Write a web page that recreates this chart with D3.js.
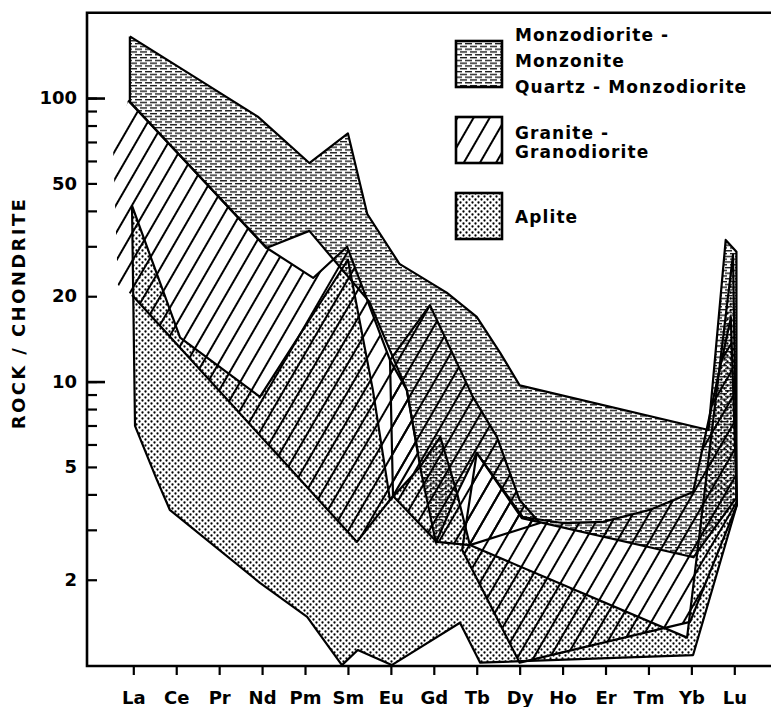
<!DOCTYPE html>
<html>
<head>
<meta charset="utf-8">
<script src="https://cdn.jsdelivr.net/npm/d3@7"></script>
<style>
  body { margin: 0; background: #fff; }
  svg { display: block; }
  text { font-family: 'DejaVu Sans', sans-serif; font-weight: bold; fill: #000; }
</style>
</head>
<body>
<svg id="chart"></svg>
<script>
// REE elements along the x axis
const elements = ['La', 'Ce', 'Pr', 'Nd', 'Pm', 'Sm', 'Eu', 'Gd', 'Tb', 'Dy', 'Ho', 'Er', 'Tm', 'Yb', 'Lu'];
const labeledTicks = [100, 50, 20, 10, 5, 2];
const decadeTicks = [100, 10];
const minorTicks = [3, 4, 6, 7, 8, 9, 30, 40, 60, 70, 80, 90];

// fields as [element position, rock/chondrite]
const monzoField = [[-0.08, 165], [2.9, 86], [4.1, 59], [5.0, 75], [5.45, 39], [6.2, 26], [7.3, 20.6],
  [8.0, 16.9], [8.55, 12.6], [9.0, 9.7], [13.4, 6.75], [13.8, 31.6], [14.05, 28.7], [14.05, 3.9],
  [13.05, 2.4], [9.05, 3.3], [8.0, 5.6], [7.55, 4.05], [7.05, 2.7], [6.68, 5.0], [6.63, 5.6],
  [6.37, 9.35], [5.5, 19.1], [4.1, 34], [3.1, 29.6], [-0.08, 97]];
// outlined part of the main granite field; its ragged left end has no outline
const graniteMain = [[-0.12, 98], [3.11, 29.6], [4.19, 23.2], [4.98, 29.9], [5.98, 11.9], [6.37, 9.35],
  [6.63, 5.6], [6.05, 3.95], [5.21, 2.72], [-0.03, 20.2]];
const graniteLeftEnd = [[-0.36, 21.9], [-0.47, 65.7]];
const graniteGd = [[5.98, 11.9], [6.91, 18.6], [7.91, 8.83], [8.47, 6.38], [9.0, 3.82], [9.47, 3.17],
  [7.84, 2.65], [7.07, 2.72], [6.05, 3.95]];
const graniteHeavy = [[8.0, 5.6], [9.07, 3.33], [10.0, 3.17], [10.94, 3.2], [12.04, 3.53], [13.04, 4.08],
  [13.92, 16.8], [14.06, 3.67], [12.97, 1.42], [9.0, 1.02], [7.66, 2.55]];
const apliteField = [[-0.03, 41.7], [1.09, 14.3], [2.95, 8.83], [5.0, 26.9], [5.58, 9.35], [5.98, 3.82],
  [6.68, 5.0], [7.15, 6.38], [7.54, 4.05], [7.84, 2.65], [12.9, 1.25], [13.97, 28], [14.06, 3.67],
  [13.04, 1.085], [8.08, 1.02], [7.61, 1.41], [6.02, 1.0], [5.23, 1.13], [4.86, 1.0], [4.05, 1.48],
  [2.95, 1.95], [0.85, 3.53], [0.55, 4.5], [0.04, 6.98]];

const legendItems = [
  { pattern: 'dash', lines: ['Monzodiorite -', 'Monzonite', 'Quartz - Monzodiorite'] },
  { pattern: 'hatch', lines: ['Granite -', 'Granodiorite'] },
  { pattern: 'dots', lines: ['Aplite'] },
];

const width = 771;
const height = 707;
const plotLeft = 87;
const plotTop = 12.7;
const plotBottom = 666;

const svg = d3.select('#chart');
let xScale;
let yScale;

const drawCanvas = () => {
  svg.attr('width', width).attr('height', height);
};

const makePatterns = () => {
  const defs = svg.append('defs');

  const dash = defs.append('pattern')
    .attr('id', 'dash')
    .attr('patternUnits', 'userSpaceOnUse')
    .attr('width', 10)
    .attr('height', 5.6);
  dash.append('rect').attr('x', 0).attr('y', 1).attr('width', 7).attr('height', 1.25).attr('fill', '#000');
  dash.append('rect').attr('x', 5).attr('y', 3.8).attr('width', 5).attr('height', 1.25).attr('fill', '#000');
  dash.append('rect').attr('x', 0).attr('y', 3.8).attr('width', 2).attr('height', 1.25).attr('fill', '#000');

  const hatch = defs.append('pattern')
    .attr('id', 'hatch')
    .attr('patternUnits', 'userSpaceOnUse')
    .attr('width', 14)
    .attr('height', 14)
    .attr('patternTransform', 'rotate(30)');
  hatch.append('line')
    .attr('x1', 7).attr('y1', 0).attr('x2', 7).attr('y2', 14)
    .attr('stroke', '#000').attr('stroke-width', 2);

  const dots = defs.append('pattern')
    .attr('id', 'dots')
    .attr('patternUnits', 'userSpaceOnUse')
    .attr('width', 6)
    .attr('height', 6);
  dots.append('circle').attr('cx', 1.5).attr('cy', 1.5).attr('r', 1.15).attr('fill', '#000');
  dots.append('circle').attr('cx', 4.5).attr('cy', 4.5).attr('r', 1.15).attr('fill', '#000');
};

const generateScales = () => {
  xScale = d3.scaleLinear().domain([0, elements.length - 1]).range([133.3, 734.3]);
  yScale = d3.scaleLog().domain([1, 200]).range([665.1, plotTop]);
};

const drawFields = () => {
  const line = d3.line()
    .x((d) => xScale(d[0]))
    .y((d) => yScale(d[1]));

  const fields = [
    { fill: apliteField, outline: apliteField.concat([apliteField[0]]), pattern: 'dots' },
    { fill: monzoField, outline: monzoField.concat([monzoField[0]]), pattern: 'dash' },
    { fill: graniteMain.concat(graniteLeftEnd), outline: graniteMain, pattern: 'hatch' },
    { fill: graniteGd, outline: graniteGd.concat([graniteGd[0]]), pattern: 'hatch' },
    { fill: graniteHeavy, outline: graniteHeavy.concat([graniteHeavy[0]]), pattern: 'hatch' },
  ];

  const g = svg.append('g');
  g.selectAll('path.fill')
    .data(fields)
    .enter()
    .append('path')
    .attr('class', 'fill')
    .attr('d', (item) => line(item.fill) + 'Z')
    .attr('fill', (item) => 'url(#' + item.pattern + ')')
    .attr('stroke', 'none');

  g.selectAll('path.outline')
    .data(fields)
    .enter()
    .append('path')
    .attr('class', 'outline')
    .attr('d', (item) => line(item.outline))
    .attr('fill', 'none')
    .attr('stroke', '#000')
    .attr('stroke-width', 2.2)
    .attr('stroke-linejoin', 'round');
};

const generateAxis = () => {
  const xAxis = d3.axisBottom(xScale)
    .tickValues(d3.range(elements.length))
    .tickFormat((i) => elements[i])
    .tickSize(9)
    .tickPadding(16);

  const gx = svg.append('g')
    .attr('transform', 'translate(0,' + plotBottom + ')')
    .call(xAxis);
  gx.select('.domain').remove();
  gx.selectAll('line').attr('stroke-width', 2.2);
  gx.selectAll('text').style('font-size', '18px').attr('font-family', null);

  const yAxis = d3.axisLeft(yScale)
    .tickValues(labeledTicks)
    .tickFormat(d3.format('d'))
    .tickSizeInner(-10)
    .tickSizeOuter(0)
    .tickPadding(10);

  const gy = svg.append('g')
    .attr('transform', 'translate(' + plotLeft + ',0)')
    .call(yAxis);
  gy.select('.domain').remove();
  gy.selectAll('line').attr('stroke-width', 2.2);
  gy.selectAll('text').style('font-size', '18px').attr('font-family', null);

  const yMajor = svg.append('g')
    .attr('transform', 'translate(' + plotLeft + ',0)')
    .call(d3.axisLeft(yScale).tickValues(decadeTicks).tickSizeInner(-18).tickSizeOuter(0).tickFormat(''));
  yMajor.select('.domain').remove();
  yMajor.selectAll('line').attr('stroke-width', 2.6);

  const yMinor = svg.append('g')
    .attr('transform', 'translate(' + plotLeft + ',0)')
    .call(d3.axisLeft(yScale).tickValues(minorTicks).tickSizeInner(-10).tickSizeOuter(0).tickFormat(''));
  yMinor.select('.domain').remove();
  yMinor.selectAll('line').attr('stroke-width', 2.2);

  // frame: top, left and bottom lines
  svg.append('path')
    .attr('d', 'M' + width + ',' + plotTop + 'H' + plotLeft + 'V' + plotBottom + 'H' + width)
    .attr('fill', 'none')
    .attr('stroke', '#000')
    .attr('stroke-width', 2.6);

  svg.append('text')
    .attr('transform', 'translate(25,' + 313 + ') rotate(-90)')
    .attr('text-anchor', 'middle')
    .style('font-size', '18px')
    .style('letter-spacing', '2.4px')
    .text('ROCK / CHONDRITE');
};

const drawLegend = () => {
  const boxTops = [41, 117, 193];
  const firstBaselines = [41, 139, 223];
  const lineGaps = [26, 19, 0];
  const legend = svg.append('g');

  legendItems.forEach((item, i) => {
    legend.append('rect')
      .attr('x', 456)
      .attr('y', boxTops[i])
      .attr('width', 46)
      .attr('height', 46)
      .attr('fill', 'url(#' + item.pattern + ')')
      .attr('stroke', '#000')
      .attr('stroke-width', 2.6);

    item.lines.forEach((t, j) => {
      legend.append('text')
        .attr('x', 515)
        .attr('y', firstBaselines[i] + j * lineGaps[i])
        .style('font-size', '17px')
        .style('letter-spacing', '1.1px')
        .text(t);
    });
  });
};

drawCanvas();
makePatterns();
generateScales();
drawFields();
generateAxis();
drawLegend();
</script>
</body>
</html>
